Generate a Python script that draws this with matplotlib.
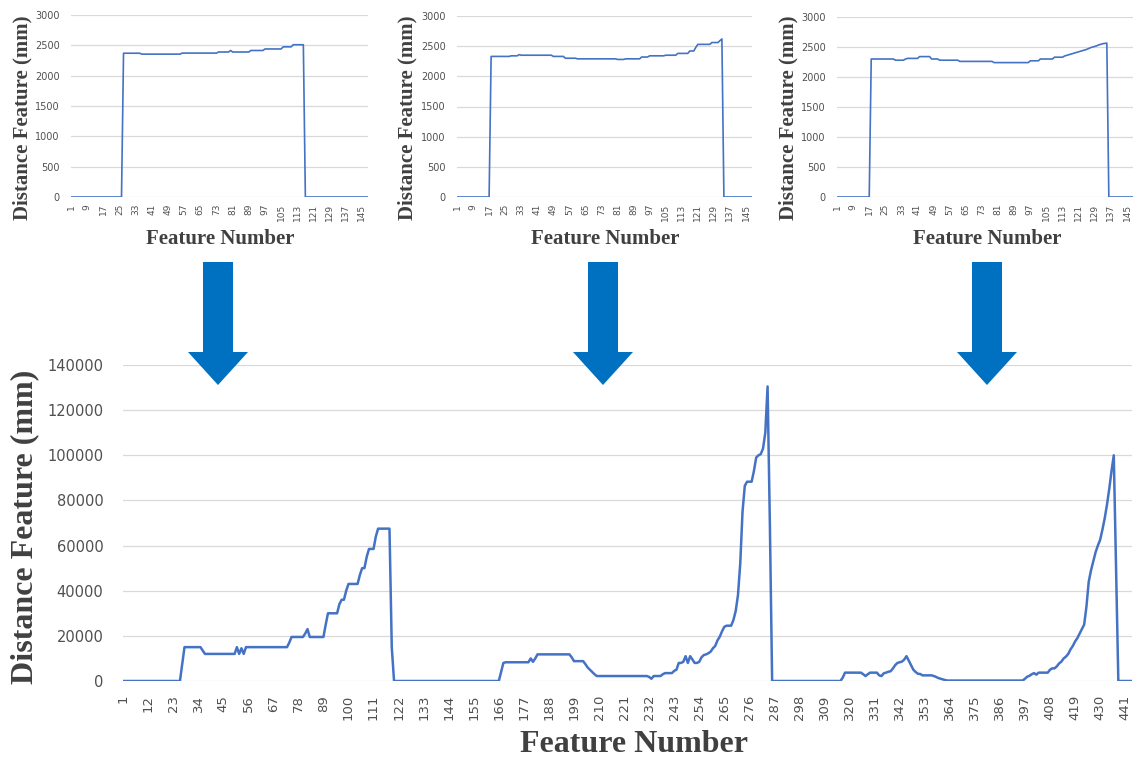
import numpy as np
import matplotlib.pyplot as plt
from matplotlib.patches import Polygon

# 上段の3つのグラフ (各148点)
top1 = ([0]*26 + [2370]*9 + [2355]*20 + [2372]*18 + [2390]*6 + [2415] + [2390]*9
        + [2415]*7 + [2440]*9 + [2475]*5 + [2510]*6 + [0]*32)
top2 = ([0]*17 + [2330]*10 + [2340]*4 + [2360] + [2350]*16 + [2330]*6 + [2300]*6
        + [2290]*20 + [2280]*4 + [2290]*8 + [2320]*4 + [2340]*8 + [2350]*6 + [2380]*6
        + [2420]*3 + [2480] + [2530]*7 + [2560]*4 + [2590, 2620] + [0]*15)
top3 = ([0]*17 + [2300]*12 + [2280]*5 + [2300] + [2310]*6 + [2340]*6 + [2300]*4
        + [2280]*10 + [2260]*17 + [2240]*18 + [2270]*5 + [2300]*7 + [2330]*5
        + [2350, 2360, 2370, 2380, 2390] + [2400, 2410, 2420, 2430, 2440]
        + [2450, 2460, 2475, 2490, 2500]
        + [2510, 2520, 2535, 2545, 2555, 2560, 2565] + [0]*13)

# 下段のグラフ (3区間をつなげて444点)
seg1 = ([0]*26 + [7500] + [15000]*8 + [13500] + [12000]*14 + [15000, 12000, 14500, 12000]
        + [15000]*19 + [17000] + [19500]*6 + [21000, 23000] + [19500]*7 + [25000]
        + [30000]*5 + [34000] + [36000]*2 + [40000] + [43000]*5 + [47000] + [50000]*2
        + [55000] + [58500]*3 + [64000] + [67500]*6 + [15000] + [0]*29)
seg2 = ([0]*18 + [4000, 8000] + [8300]*11 + [10000, 8500, 10000] + [11800]*15 + [10500]
        + [8800]*5 + [7500, 6000, 5000, 4000, 3000] + [2200]*23 + [1800, 1000] + [2200]*4
        + [3000] + [3500]*4 + [4500, 5000]
        + [8000, 8000, 8500, 11000, 8000, 11000, 9500, 8000, 8000, 8500]
        + [10500, 11500, 11800, 12300, 13000, 14500, 15500, 18000, 19600, 22000, 24000]
        + [24500]*3 + [27000, 31000, 38000, 52000, 75000, 86500] + [88300]*3
        + [93000, 99000, 100000, 100500, 103000, 110000, 130500, 70000] + [0]*11)
seg3 = ([0]*20 + [1500] + [3700]*8 + [3000, 2200, 3000] + [3700]*4
        + [2500, 2200, 3400, 3700, 4100, 4300, 5500, 7000, 8000, 8300, 8600, 9500,
           11000, 9000, 7000, 5000, 4000, 3200, 3100]
        + [2500]*5 + [2200, 1800, 1300, 1000, 700, 400] + [200]*34
        + [1000, 1900, 2300, 3000, 3500, 2800] + [3700]*5
        + [5000, 5600, 5600, 6500, 7800, 8600, 10000, 10800, 12000, 14000,
           15500, 17500, 19000, 21000, 23000, 25000, 33000, 44000, 49000, 53000,
           57000, 60000, 62500, 67000, 72000, 78000, 85000, 93000, 100000, 50000]
        + [0]*7)
bottom = seg1 + seg2 + seg3

W, H = 1135, 760
line_c = "#4472C4"
grid_c = "#D9D9D9"
text_c = "#505050"
serif = "Liberation Serif"

fig = plt.figure(figsize=(W / 100, H / 100), dpi=100)


def px_axes(l, t, r, b):
    return fig.add_axes([l / W, 1 - b / H, (r - l) / W, (b - t) / H])


def style(ax, ymax, ystep, xstep, n, fs_y, fs_x, pad_y, pad_x):
    ax.set_xlim(1, n)
    ax.set_ylim(0, ymax)
    ax.set_yticks(np.arange(0, ymax + 1, ystep))
    ax.set_xticks(np.arange(1, n + 1, xstep))
    ax.grid(axis="y", color=grid_c, lw=0.9)
    ax.set_axisbelow(True)
    for s in ax.spines.values():
        s.set_visible(False)
    ax.tick_params(length=0, colors=text_c)
    ax.tick_params(axis="y", labelsize=fs_y, pad=pad_y)
    ax.tick_params(axis="x", labelsize=fs_x, pad=pad_x, labelrotation=90)


# 上段
tops = [top1, top2, top3]
boxes = [(71, 15, 368, 197), (457, 16, 752, 197), (837, 17, 1133, 197)]
ylab_x = [22, 407, 788]
xlab_x = [220, 605, 987]
for data, box, yx, xx in zip(tops, boxes, ylab_x, xlab_x):
    ax = px_axes(*box)
    x = np.arange(1, len(data) + 1)
    ax.plot(x, data, color=line_c, lw=1.2)
    style(ax, 3000, 500, 8, len(data), 7, 6.5, 8, 5)
    fig.text(yx / W, 1 - 118 / H, "Distance Feature (mm)", rotation=90,
             ha="center", va="center", family=serif, weight="bold",
             fontsize=15, color="#404040")
    fig.text(xx / W, 1 - 239 / H, "Feature Number", ha="center", va="center",
             family=serif, weight="bold", fontsize=15, color="#404040")

# 下段
ax = px_axes(123, 365, 1132, 681)
x = np.arange(1, len(bottom) + 1)
ax.plot(x, bottom, color=line_c, lw=1.8)
style(ax, 140000, 20000, 11, len(bottom), 10.5, 9.5, 14, 10)
fig.text(25 / W, 1 - 527 / H, "Distance Feature (mm)", rotation=90,
         ha="center", va="center", family=serif, weight="bold",
         fontsize=23, color="#404040")
fig.text(634 / W, 1 - 745 / H, "Feature Number", ha="center", va="center",
         family=serif, weight="bold", fontsize=23, color="#404040")

# 矢印
for cx in [218, 603, 987]:
    pts = [(cx - 15, 262), (cx + 15, 262), (cx + 15, 352), (cx + 30, 352),
           (cx, 385), (cx - 30, 352), (cx - 15, 352)]
    fig.add_artist(Polygon([(px / W, 1 - py / H) for px, py in pts],
                           closed=True, transform=fig.transFigure,
                           color="#0070C0", lw=0))

fig.savefig("out.png", dpi=100)
